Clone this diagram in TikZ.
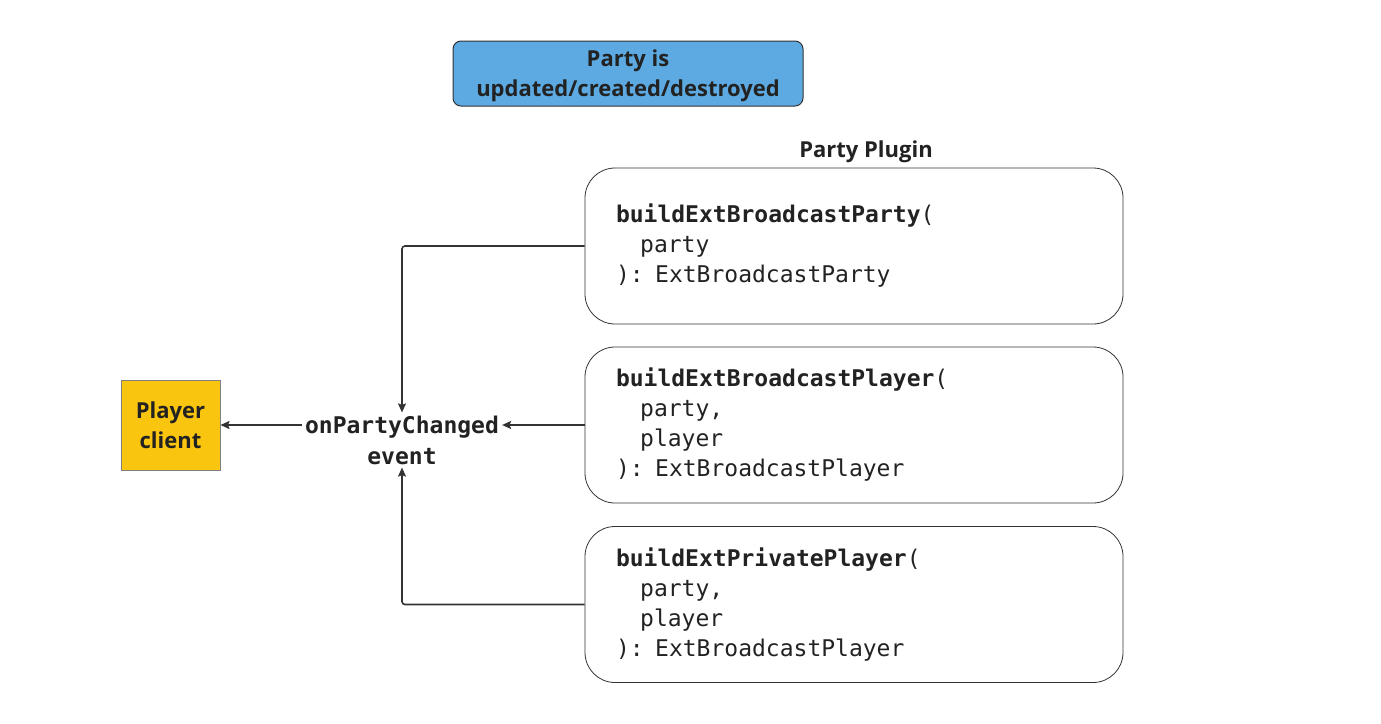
\documentclass[tikz,border=0pt]{standalone}
\usepackage{fontspec}
\setmainfont{Open Sans}
\setmonofont{DejaVu Sans Mono}
\usetikzlibrary{arrows.meta,shapes}
\definecolor{partyblue}{RGB}{93,170,226}
\definecolor{clientyellow}{RGB}{250,197,15}
\definecolor{edgegray}{RGB}{51,51,51}
\definecolor{inkgray}{RGB}{34,34,34}
\tikzstyle{trig}=[rectangle,rounded corners=8pt,draw=edgegray,fill=partyblue,line width=1pt,minimum width=350pt,minimum height=65pt,align=center,text depth=0pt,text=inkgray,font=\fontsize{22}{30}\selectfont\bfseries]
\tikzstyle{plug}=[rectangle,rounded corners=30pt,draw=edgegray,line width=0.8pt,minimum height=156pt,text width=476pt,inner xsep=31pt,align=left,text=inkgray,font=\fontsize{23}{30}\selectfont\ttfamily]
\tikzstyle{client}=[rectangle,draw=gray,fill=clientyellow,line width=1pt,minimum width=99pt,minimum height=90pt,align=center,text=inkgray,font=\fontsize{22}{30}\selectfont\bfseries]
\tikzstyle{evt}=[align=center,inner sep=3pt,text=inkgray,font=\fontsize{23}{31}\selectfont\ttfamily\bfseries]
\tikzstyle{dgraph}=[-{Stealth[length=9pt,width=8pt,inset=1.5pt]},line width=1.6pt,draw=edgegray,rounded corners=3pt]
\newcommand{\ind}{\hspace*{1.05em}}

\begin{document}
\begin{tikzpicture}[x=1pt,y=-1pt]
\useasboundingbox (0,0) rectangle (1381,723);
\node[trig] (T) at (628,73.5) {Party is\\updated/created/destroyed};
\node[text=inkgray,font=\fontsize{22}{30}\selectfont\bfseries] (PP) at (866,152) {Party Plugin};
\node[plug] (B1) at (854,246) {\textbf{buildExtBroadcastParty}(\\\ind party\\): ExtBroadcastParty};
\node[plug] (B2) at (854,425) {\textbf{buildExtBroadcastPlayer}(\\\ind party,\\\ind player\\): ExtBroadcastPlayer};
\node[plug] (B3) at (854,604.5) {\textbf{buildExtPrivatePlayer}(\\\ind party,\\\ind player\\): ExtBroadcastPlayer};
\node[client] (PC) at (170.5,425) {Player\\client};
\node[evt] (E) at (402,440) {onPartyChanged\\event};
\draw[dgraph] (B1.west) -| (E.north);
\draw[dgraph] (B3.west) -| (E.south);
\draw[dgraph] (B2.west) -- (E.east |- B2.west);
\draw[dgraph] (E.west |- PC.east) -- (PC.east);
\end{tikzpicture}
\end{document}
